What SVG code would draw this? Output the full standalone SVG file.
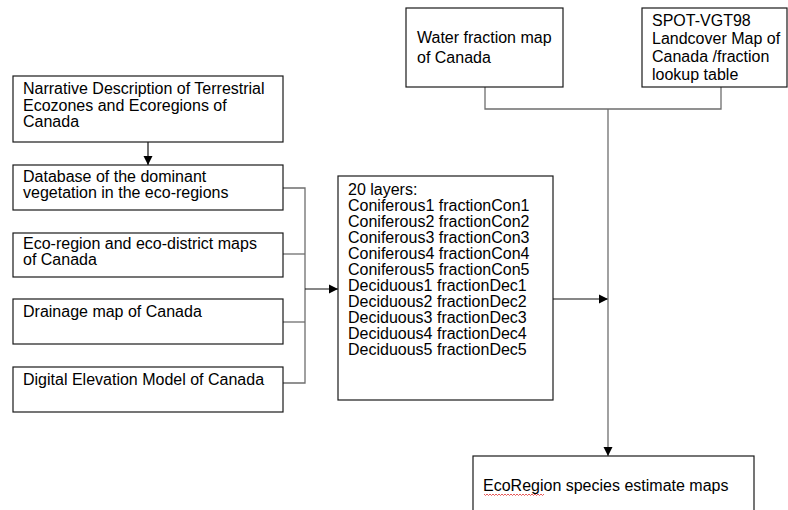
<svg xmlns="http://www.w3.org/2000/svg" width="788" height="510" viewBox="0 0 788 510">
<style>
.box{fill:#fff;stroke:#1a1a1a;stroke-width:1.2}
.t{font-family:"Liberation Sans",Arial,sans-serif;font-size:16px;fill:#000}
.c{fill:none;stroke:#6e6e6e;stroke-width:1.3}
.ck{fill:none;stroke:#111;stroke-width:1.2}
</style>
<defs>
<marker id="ah" markerWidth="10" markerHeight="10" refX="9" refY="5" orient="auto" markerUnits="userSpaceOnUse">
<path d="M0,0.5 L9,5 L0,9.5 Z" fill="#000"/>
</marker>
</defs>
<rect width="788" height="510" fill="#fff"/>
<g id="connectors">
<path class="ck" d="M148,142 V165" marker-end="url(#ah)"/>
<path class="c" d="M283,188 H305 V383 H283"/>
<path class="c" d="M283,254 H305"/>
<path class="c" d="M283,322 H305"/>
<path class="ck" d="M305,289 H338" marker-end="url(#ah)"/>
<path class="ck" d="M553,299 H608" marker-end="url(#ah)"/>
<path class="c" d="M485,87 V109 H721 V87"/>
<path class="c" d="M608,109 V456" marker-end="url(#ah)"/>
</g>
<g id="n1">
<rect class="box" x="13" y="76" width="270" height="66"/>
<text class="t" x="23" y="94">Narrative Description of Terrestrial</text>
<text class="t" x="23" y="111">Ecozones and Ecoregions of</text>
<text class="t" x="23" y="127">Canada</text>
</g>
<g id="n2">
<rect class="box" x="13" y="165" width="270" height="45"/>
<text class="t" x="23" y="182">Database of the dominant</text>
<text class="t" x="23" y="198">vegetation in the eco-regions</text>
</g>
<g id="n3">
<rect class="box" x="13" y="233" width="270" height="44"/>
<text class="t" x="23" y="249">Eco-region and eco-district maps</text>
<text class="t" x="23" y="265">of Canada</text>
</g>
<g id="n4">
<rect class="box" x="13" y="299" width="270" height="45"/>
<text class="t" x="23" y="317">Drainage map of Canada</text>
</g>
<g id="n5">
<rect class="box" x="13" y="367" width="270" height="45"/>
<text class="t" x="23" y="385">Digital Elevation Model of Canada</text>
</g>
<g id="n6">
<rect class="box" x="338" y="176" width="215" height="224"/>
<text class="t" x="348" y="195">20 layers:</text>
<text class="t" x="348" y="211">Coniferous1 fractionCon1</text>
<text class="t" x="348" y="227">Coniferous2 fractionCon2</text>
<text class="t" x="348" y="243">Coniferous3 fractionCon3</text>
<text class="t" x="348" y="259">Coniferous4 fractionCon4</text>
<text class="t" x="348" y="275">Coniferous5 fractionCon5</text>
<text class="t" x="348" y="291">Deciduous1 fractionDec1</text>
<text class="t" x="348" y="307">Deciduous2 fractionDec2</text>
<text class="t" x="348" y="323">Deciduous3 fractionDec3</text>
<text class="t" x="348" y="339">Deciduous4 fractionDec4</text>
<text class="t" x="348" y="355">Deciduous5 fractionDec5</text>
</g>
<g id="n7">
<rect class="box" x="406" y="8" width="157" height="79"/>
<text class="t" x="417" y="43">Water fraction map</text>
<text class="t" x="417" y="63">of Canada</text>
</g>
<g id="n8">
<rect class="box" x="642" y="8" width="145" height="79"/>
<text class="t" x="652" y="26">SPOT-VGT98</text>
<text class="t" x="652" y="44">Landcover Map of</text>
<text class="t" x="652" y="62">Canada /fraction</text>
<text class="t" x="652" y="80">lookup table</text>
</g>
<g id="n9">
<rect class="box" x="473" y="456" width="281" height="60"/>
<text class="t" x="483" y="491">EcoRegion species estimate maps</text>
<path d="M484,494 l1.5,1.5 l1.5,-1.5 l1.5,1.5 l1.5,-1.5 l1.5,1.5 l1.5,-1.5 l1.5,1.5 l1.5,-1.5 l1.5,1.5 l1.5,-1.5 l1.5,1.5 l1.5,-1.5 l1.5,1.5 l1.5,-1.5 l1.5,1.5 l1.5,-1.5 l1.5,1.5 l1.5,-1.5 l1.5,1.5 l1.5,-1.5 l1.5,1.5 l1.5,-1.5 l1.5,1.5 l1.5,-1.5 l1.5,1.5 l1.5,-1.5 l1.5,1.5 l1.5,-1.5 l1.5,1.5 l1.5,-1.5 l1.5,1.5 l1.5,-1.5 l1.5,1.5 l1.5,-1.5 l1.5,1.5 l1.5,-1.5 l1.5,1.5 l1.5,-1.5 l1.5,1.5 l1.5,-1.5" fill="none" stroke="#e03030" stroke-width="0.8"/>
</g>
</svg>
